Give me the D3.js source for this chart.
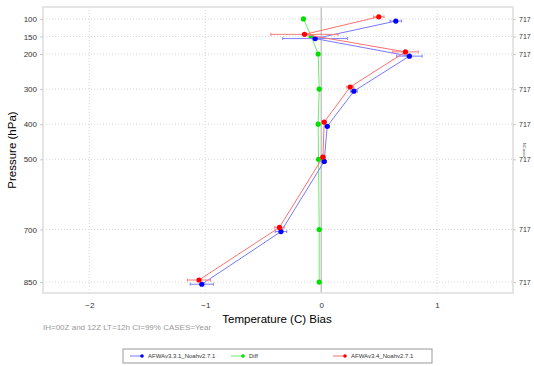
<!DOCTYPE html>
<html>
<head>
<meta charset="utf-8">
<script src="https://cdn.jsdelivr.net/npm/d3@7"></script>
<style>
  body { margin: 0; background: #fff; }
  svg { font-family: "Liberation Sans", Arial, sans-serif; }
</style>
</head>
<body>
<div id="chart"></div>
<script>
// pressure levels (hPa)
const levels = [100, 150, 200, 300, 400, 500, 700, 850];
const xTicks = [-2, -1, 0, 1];

// AFWAv3.3.1_Noahv2.7.1
const blueBias = [0.644, -0.052, 0.761, 0.282, 0.052, 0.026, -0.347, -1.03];
const blueErr = [0.05, 0.28, 0.11, 0.03, 0.02, 0.02, 0.05, 0.10];
// AFWAv3.4_Noahv2.7.1
const redBias = [0.497, -0.144, 0.727, 0.25, 0.026, 0.015, -0.36, -1.054];
const redErr = [0.045, 0.29, 0.11, 0.03, 0.02, 0.02, 0.04, 0.10];
// Diff
const diffBias = [-0.153, -0.086, -0.026, -0.017, -0.026, -0.023, -0.017, -0.017];
// number of cases per level (right axis)
const nCases = [717, 717, 717, 717, 717, 717, 717, 717];

const W = 534, H = 366;
const margin = { top: 7, right: 21, bottom: 73, left: 43 };
const width = W - margin.left - margin.right,
  height = H - margin.top - margin.bottom;

const svg = d3
  .select('#chart')
  .append('svg')
  .attr('width', W)
  .attr('height', H);

const g = svg
  .append('g')
  .attr('transform', `translate(${margin.left}, ${margin.top})`);

//scales
const x = d3.scaleLinear().domain([-2.4, 1.655]).range([0, width]);
const y = d3.scaleLinear().domain([66, 881]).range([0, height]);

// grid lines
g.selectAll('.hgrid')
  .data(levels)
  .enter()
  .append('line')
  .attr('x1', 0)
  .attr('x2', width)
  .attr('y1', (d) => y(d))
  .attr('y2', (d) => y(d))
  .attr('stroke', '#d8d8d8')
  .attr('stroke-width', 1)
  .attr('stroke-dasharray', '1 2');

g.selectAll('.vgrid')
  .data(xTicks.filter((d) => d !== 0))
  .enter()
  .append('line')
  .attr('x1', (d) => x(d))
  .attr('x2', (d) => x(d))
  .attr('y1', 0)
  .attr('y2', height)
  .attr('stroke', '#d8d8d8')
  .attr('stroke-width', 1)
  .attr('stroke-dasharray', '1 2');

// zero line
g.append('line')
  .attr('x1', x(0))
  .attr('x2', x(0))
  .attr('y1', 0)
  .attr('y2', height)
  .attr('stroke', '#aaa')
  .attr('stroke-width', 1);

// frame
g.append('rect')
  .attr('width', width)
  .attr('height', height)
  .attr('fill', 'none')
  .attr('stroke', '#ddd')
  .attr('stroke-width', 1.5);

// axes
const axisStyle = (sel) => {
  sel.select('.domain').remove();
  sel.selectAll('line').attr('stroke', '#ccc');
  sel.selectAll('text')
    .attr('fill', '#333')
    .style('font-size', '8px');
};

g.append('g')
  .call(d3.axisLeft(y).tickValues(levels).tickSize(3).tickPadding(3))
  .call(axisStyle);

g.append('g')
  .attr('transform', `translate(${width}, 0)`)
  .call(
    d3.axisRight(y)
      .tickValues(levels)
      .tickSize(3)
      .tickPadding(3)
      .tickFormat((d, i) => nCases[i])
  )
  .call(axisStyle)
  .selectAll('text')
  .style('font-size', '7px');

g.append('g')
  .attr('transform', `translate(0, ${height})`)
  .call(d3.axisBottom(x).tickValues(xTicks).tickSize(0).tickPadding(9).tickFormat(d3.format('d')))
  .call(axisStyle);

// axis titles
svg.append('text')
  .attr('x', 277)
  .attr('y', 323)
  .attr('text-anchor', 'middle')
  .style('font-size', '11.5px')
  .style('fill', '#000')
  .text('Temperature (C) Bias');

svg.append('text')
  .attr('transform', 'rotate(-90)')
  .attr('x', -150)
  .attr('y', 16)
  .attr('text-anchor', 'middle')
  .style('font-size', '11.5px')
  .style('fill', '#000')
  .text('Pressure (hPa)');

svg.append('text')
  .attr('transform', 'rotate(90)')
  .attr('x', 150)
  .attr('y', -523)
  .attr('text-anchor', 'middle')
  .style('font-size', '4px')
  .style('fill', '#444')
  .text('NCases');

svg.append('text')
  .attr('x', 43)
  .attr('y', 330)
  .style('font-size', '8px')
  .style('fill', '#999')
  .text('IH=00Z and 12Z  LT=12h CI=99% CASES=Year');

// series
const series = [
  { name: 'AFWAv3.3.1_Noahv2.7.1', vals: blueBias, err: blueErr, off: 6, dot: '#0000ff', line: '#7878ff', errc: '#8080ff' },
  { name: 'Diff', vals: diffBias, err: null, off: 0, dot: '#00e000', line: '#70e870', errc: '#70e870' },
  { name: 'AFWAv3.4_Noahv2.7.1', vals: redBias, err: redErr, off: -6, dot: '#ff0000', line: '#ff7070', errc: '#ff7a7a' },
];

const drawOrder = [series[1], series[0], series[2]];
drawOrder.forEach((s) => {
  const pts = levels.map((p, i) => ({ p: p + s.off, v: s.vals[i], e: s.err ? s.err[i] : 0 }));

  g.append('path')
    .datum(pts)
    .attr('fill', 'none')
    .attr('stroke', s.line)
    .attr('stroke-width', 1)
    .attr('d', d3.line().x((d) => x(d.v)).y((d) => y(d.p)));

  if (s.err) {
    const eb = g.selectAll(null).data(pts).enter().append('g');
    eb.append('line')
      .attr('x1', (d) => x(d.v - d.e))
      .attr('x2', (d) => x(d.v + d.e))
      .attr('y1', (d) => y(d.p))
      .attr('y2', (d) => y(d.p))
      .attr('stroke', s.errc)
      .attr('stroke-width', 1);
    [-1, 1].forEach((sg) => {
      eb.append('line')
        .attr('x1', (d) => x(d.v + sg * d.e))
        .attr('x2', (d) => x(d.v + sg * d.e))
        .attr('y1', (d) => y(d.p) - 1.5)
        .attr('y2', (d) => y(d.p) + 1.5)
        .attr('stroke', s.errc)
        .attr('stroke-width', 1);
    });
  }

  g.selectAll(null)
    .data(pts)
    .enter()
    .append('circle')
    .attr('cx', (d) => x(d.v))
    .attr('cy', (d) => y(d.p))
    .attr('r', 2.6)
    .attr('fill', s.dot);
});

// legend
const legend = svg.append('g').attr('transform', 'translate(123, 349)');
legend.append('rect')
  .attr('width', 309)
  .attr('height', 14)
  .attr('fill', '#fff')
  .attr('stroke', '#999')
  .attr('stroke-width', 1);

const legendX = [7, 108, 210];
series.forEach((s, i) => {
  const lg = legend.append('g').attr('transform', `translate(${legendX[i]}, 7)`);
  lg.append('line')
    .attr('x1', 0)
    .attr('x2', 12)
    .attr('stroke', s.line)
    .attr('stroke-width', 1);
  lg.append('circle').attr('cx', 12).attr('r', 1.8).attr('fill', s.dot);
  lg.append('text')
    .attr('x', 18)
    .attr('y', 2)
    .style('font-size', '6px')
    .style('fill', '#333')
    .text(s.name);
});
</script>
</body>
</html>
